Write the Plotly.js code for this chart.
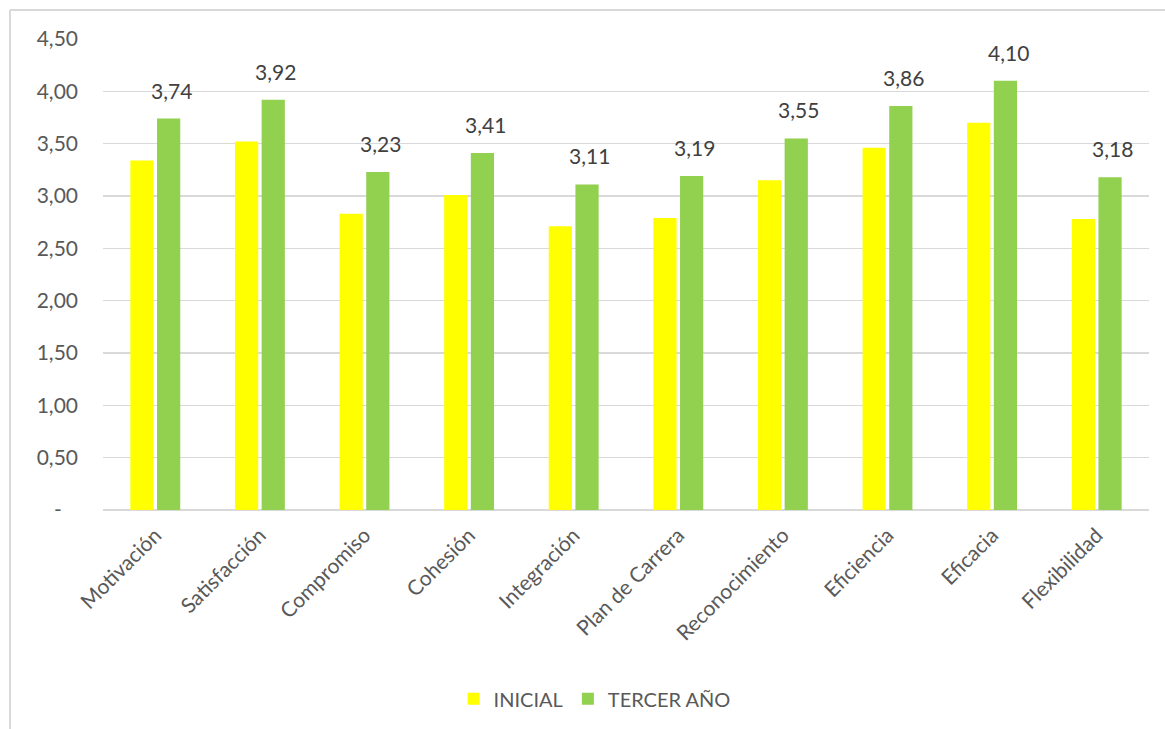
<!DOCTYPE html>
<html>
<head>
<meta charset="utf-8">
<script src="https://cdn.plot.ly/plotly-3.0.1.min.js"></script>
<style>
  html, body { margin: 0; padding: 0; background: #ffffff; }
  #chart { width: 1165px; height: 729px; }
</style>
</head>
<body>
<div id="chart"></div>
<script>
const categories = ["Motivación", "Satisfacción", "Compromiso", "Cohesión", "Integración",
                    "Plan de Carrera", "Reconocimiento", "Eficiencia", "Eficacia", "Flexibilidad"];
const inicial = [3.34, 3.52, 2.83, 3.01, 2.71, 2.79, 3.15, 3.46, 3.70, 2.78];
const tercerAno = [3.74, 3.92, 3.23, 3.41, 3.11, 3.19, 3.55, 3.86, 4.10, 3.18];
const seriesNames = ["INICIAL", "TERCER AÑO"];
const yTickVals = [0, 0.5, 1, 1.5, 2, 2.5, 3, 3.5, 4, 4.5];
const yTickText = ["-\u00a0\u00a0\u00a0", "0,50", "1,00", "1,50", "2,00", "2,50", "3,00", "3,50", "4,00", "4,50"];

const FONT = "Lato, 'Open Sans', sans-serif";
const fmt = v => v.toFixed(2).replace('.', ',');

const traces = [
  { type: 'bar', name: seriesNames[0], x: categories, y: inicial,
    marker: { color: '#FFFF00' }, hoverinfo: 'x+y' },
  { type: 'bar', name: seriesNames[1], x: categories, y: tercerAno,
    marker: { color: '#92D050' }, hoverinfo: 'x+y' }
];

const annotations = categories.map((c, i) => ({
  x: c, y: tercerAno[i], xref: 'x', yref: 'y',
  text: fmt(tercerAno[i]), showarrow: false,
  xanchor: 'center', yanchor: 'bottom', xshift: 16, yshift: 14,
  font: { family: FONT, size: 21, color: '#404040' }
}));

const layout = {
  width: 1165, height: 729,
  margin: { l: 103, r: 16, t: 39, b: 218 },
  paper_bgcolor: '#ffffff', plot_bgcolor: '#ffffff',
  font: { family: FONT, size: 21, color: '#595959' },
  barmode: 'group', bargap: 0.49, bargroupgap: 0.13,
  showlegend: true,
  legend: { orientation: 'h', x: 0.47, xanchor: 'center', y: -0.398, yanchor: 'middle',
            font: { family: FONT, size: 20, color: '#595959' }, itemwidth: 30,
            traceorder: 'normal' },
  xaxis: { type: 'category', tickangle: -45, ticks: '', showgrid: false, showline: false,
           zeroline: false, tickfont: { family: FONT, size: 21, color: '#595959' },
           ticklabelstandoff: 8 },
  yaxis: { range: [0, 4.5], tickvals: yTickVals, ticktext: yTickText, ticks: '',
           showgrid: true, gridcolor: '#d9d9d9', gridwidth: 1.5,
           zeroline: true, zerolinecolor: '#d9d9d9', zerolinewidth: 1.5,
           showline: false, tickfont: { family: FONT, size: 21, color: '#595959' },
           ticklabelstandoff: 24 },
  annotations: annotations,
  shapes: [
    { type: 'line', xref: 'paper', yref: 'paper', x0: -0.0889, x1: -0.0889, y0: 1.0614, y1: -0.5,
      line: { color: '#d9d9d9', width: 2 } },
    { type: 'line', xref: 'paper', yref: 'paper', x0: -0.0889, x1: 1.05, y0: 1.0614, y1: 1.0614,
      line: { color: '#d9d9d9', width: 2 } }
  ]
};

Plotly.newPlot('chart', traces, layout, { staticPlot: true, displayModeBar: false });
</script>
</body>
</html>
